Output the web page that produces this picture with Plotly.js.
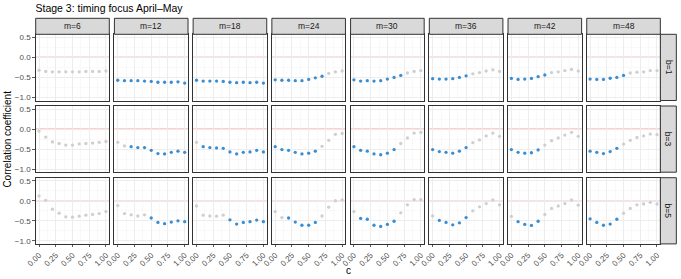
<!DOCTYPE html>
<html>
<head>
<meta charset="utf-8">
<script src="https://cdn.plot.ly/plotly-3.0.1.min.js"></script>
<style>html,body{margin:0;padding:0;background:#fff;}#chart{width:681px;height:279px;}</style>
</head>
<body>
<div id="chart"></div>
<script>
// ---- data ----
const cValues = [0, 0.1, 0.2, 0.3, 0.4, 0.5, 0.6, 0.7, 0.8, 0.9, 1.0];
const mLabels = ["m=6", "m=12", "m=18", "m=24", "m=30", "m=36", "m=42", "m=48"];
const bLabels = ["b=1", "b=3", "b=5"];
const xTickVals = [0, 0.25, 0.5, 0.75, 1.0];
const xTickText = ["0.00", "0.25", "0.50", "0.75", "1.00"];
const yTickVals = [0.5, 0.0, -0.5, -1.0];
const yTickText = ["0.5", "0.0", "\u22120.5", "\u22121.0"];

// correlation per panel, rows b=1,3,5 ; columns m=6..48
const corrB1 = [
  [-0.32,-0.35,-0.36,-0.36,-0.36,-0.36,-0.36,-0.35,-0.35,-0.35,-0.34],
  [-0.57,-0.58,-0.58,-0.58,-0.59,-0.60,-0.62,-0.62,-0.62,-0.61,-0.64],
  [-0.57,-0.59,-0.59,-0.59,-0.60,-0.62,-0.63,-0.62,-0.63,-0.62,-0.64],
  [-0.56,-0.57,-0.57,-0.58,-0.58,-0.55,-0.51,-0.47,-0.40,-0.36,-0.34],
  [-0.56,-0.59,-0.58,-0.59,-0.58,-0.54,-0.50,-0.45,-0.39,-0.35,-0.33],
  [-0.53,-0.54,-0.54,-0.53,-0.50,-0.46,-0.41,-0.38,-0.34,-0.31,-0.35],
  [-0.525,-0.55,-0.54,-0.525,-0.48,-0.44,-0.38,-0.36,-0.33,-0.30,-0.34],
  [-0.54,-0.55,-0.55,-0.52,-0.50,-0.45,-0.39,-0.37,-0.36,-0.33,-0.33]
];
const corrB3 = [
  [-0.05,-0.20,-0.32,-0.36,-0.40,-0.40,-0.37,-0.36,-0.35,-0.33,-0.31],
  [-0.33,-0.42,-0.44,-0.46,-0.46,-0.53,-0.61,-0.62,-0.58,-0.55,-0.58],
  [-0.33,-0.44,-0.46,-0.47,-0.48,-0.57,-0.62,-0.58,-0.57,-0.53,-0.57],
  [-0.44,-0.51,-0.53,-0.58,-0.62,-0.60,-0.55,-0.43,-0.28,-0.13,-0.11],
  [-0.44,-0.53,-0.55,-0.62,-0.64,-0.60,-0.51,-0.36,-0.22,-0.10,-0.08],
  [-0.51,-0.56,-0.58,-0.60,-0.55,-0.46,-0.34,-0.27,-0.17,-0.10,-0.18],
  [-0.51,-0.58,-0.60,-0.59,-0.52,-0.40,-0.29,-0.22,-0.15,-0.08,-0.18],
  [-0.55,-0.58,-0.61,-0.56,-0.48,-0.375,-0.28,-0.21,-0.17,-0.125,-0.14]
];
const corrB5 = [
  [0.12,0.01,-0.21,-0.31,-0.40,-0.41,-0.385,-0.36,-0.34,-0.32,-0.27],
  [-0.12,-0.32,-0.35,-0.38,-0.35,-0.43,-0.54,-0.57,-0.53,-0.50,-0.52],
  [-0.13,-0.36,-0.38,-0.385,-0.36,-0.475,-0.58,-0.54,-0.52,-0.48,-0.52],
  [-0.27,-0.42,-0.43,-0.53,-0.61,-0.61,-0.54,-0.38,-0.16,0.00,0.02],
  [-0.27,-0.44,-0.46,-0.61,-0.64,-0.59,-0.51,-0.30,-0.10,0.03,0.03],
  [-0.38,-0.49,-0.54,-0.60,-0.55,-0.42,-0.25,-0.15,-0.07,0.02,-0.10],
  [-0.39,-0.52,-0.59,-0.615,-0.51,-0.34,-0.19,-0.13,-0.07,0.02,-0.11],
  [-0.45,-0.54,-0.61,-0.58,-0.46,-0.31,-0.19,-0.10,-0.08,-0.04,-0.08]
];
// significance flags (1 = significant, drawn blue)
const sigB1 = [
  [0,0,0,0,0,0,0,0,0,0,0],
  [1,1,1,1,1,1,1,1,1,1,1],
  [1,1,1,1,1,1,1,1,1,1,1],
  [1,1,1,1,1,1,1,1,0,0,0],
  [1,1,1,1,1,1,1,1,0,0,0],
  [1,1,1,1,1,1,0,0,0,0,0],
  [1,1,1,1,1,1,0,0,0,0,0],
  [1,1,1,1,1,1,0,0,0,0,0]
];
const sigB3 = [
  [0,0,0,0,0,0,0,0,0,0,0],
  [0,0,1,1,1,1,1,1,1,1,1],
  [0,1,1,1,1,1,1,1,1,1,1],
  [1,1,1,1,1,1,1,0,0,0,0],
  [1,1,1,1,1,1,1,0,0,0,0],
  [1,1,1,1,1,1,0,0,0,0,0],
  [1,1,1,1,1,0,0,0,0,0,0],
  [1,1,1,1,1,0,0,0,0,0,0]
];
const sigB5 = [
  [0,0,0,0,0,0,0,0,0,0,0],
  [0,0,0,0,0,1,1,1,1,1,1],
  [0,0,0,0,0,1,1,1,1,1,1],
  [0,0,1,1,1,1,1,0,0,0,0],
  [0,1,1,1,1,1,1,0,0,0,0],
  [0,1,1,1,1,1,0,0,0,0,0],
  [0,1,1,1,1,0,0,0,0,0,0],
  [1,1,1,1,1,0,0,0,0,0,0]
];

const corrRows = [corrB1, corrB3, corrB5];
const sigRows = [sigB1, sigB3, sigB5];

// ---- layout geometry ----
const W = 681, H = 279;
const px = x => x / W;
const py = y => 1 - y / H;
const panelLeft0 = 35.7, panelPitchX = 78.72, panelW = 73.6;
const panelTop0 = 34.3, panelPitchY = 71.7, panelH = 66.2;
const stripH = 16;
const blue = "#3A8DD0", grey = "#CFCFCF";
const FONT = "Liberation Sans, Arial, sans-serif";

const data = [];
const layout = {
  width: W, height: H,
  margin: {l: 0, r: 0, t: 0, b: 0},
  paper_bgcolor: "#fff", plot_bgcolor: "#fff",
  showlegend: false,
  font: {family: FONT, size: 8, color: "#4D4D4D"},
  title: {text: "Stage 3: timing focus April\u2013May", x: px(35.5), xanchor: "left", y: py(8), yanchor: "middle",
          font: {family: FONT, size: 10.5, color: "#000"}},
  shapes: [], annotations: []
};

for (let j = 0; j < 3; j++) {
  for (let i = 0; i < 8; i++) {
    const k = j * 8 + i + 1;
    const xa = "xaxis" + (k === 1 ? "" : k), ya = "yaxis" + (k === 1 ? "" : k);
    const xr = "x" + (k === 1 ? "" : k), yr = "y" + (k === 1 ? "" : k);
    const L = panelLeft0 + panelPitchX * i, T = panelTop0 + panelPitchY * j;
    const vals = corrRows[j][i], sig = sigRows[j][i];
    data.push({
      type: "scatter", mode: "markers", x: cValues, y: vals, xaxis: xr, yaxis: yr,
      marker: {size: 3.3, color: sig.map(s => s ? blue : grey), line: {width: 0}},
      hoverinfo: "x+y", cliponaxis: false
    });
    layout[xa] = {
      domain: [px(L), px(L + panelW)], anchor: yr, range: [-0.05, 1.05],
      tickmode: "array", tickvals: xTickVals, ticktext: xTickText,
      showticklabels: j === 2, ticks: j === 2 ? "outside" : "", ticklen: 2.5, tickwidth: 0.8, tickcolor: "#333",
      tickangle: -45, tickfont: {family: FONT, size: 8, color: "#4D4D4D"},
      showgrid: true, gridcolor: "#EBEBEB", gridwidth: 0.9,
      minor: {tickmode: "array", tickvals: [0.125, 0.375, 0.625, 0.875], showgrid: true, gridcolor: "#F4F4F4", gridwidth: 0.5, ticks: ""},
      zeroline: false, showline: true, mirror: true, linecolor: "#333333", linewidth: 1, fixedrange: true
    };
    layout[ya] = {
      domain: [py(T + panelH), py(T)], anchor: xr, range: [-1.075, 0.575],
      tickmode: "array", tickvals: yTickVals, ticktext: yTickText,
      showticklabels: i === 0, ticks: i === 0 ? "outside" : "", ticklen: 2.5, tickwidth: 0.8, tickcolor: "#333",
      tickfont: {family: FONT, size: 8, color: "#4D4D4D"},
      showgrid: true, gridcolor: "#EBEBEB", gridwidth: 0.9,
      minor: {tickmode: "array", tickvals: [0.25, -0.25, -0.75], showgrid: true, gridcolor: "#F4F4F4", gridwidth: 0.5, ticks: ""},
      zeroline: false, showline: true, mirror: true, linecolor: "#333333", linewidth: 1, fixedrange: true
    };
    // reference line at zero
    layout.shapes.push({type: "line", xref: xr + " domain", yref: yr, x0: 0, x1: 1, y0: 0, y1: 0,
      line: {color: "rgba(255,0,0,0.25)", width: 1.5}, layer: "below"});
    // top strip
    if (j === 0) {
      layout.shapes.push({type: "rect", xref: "paper", yref: "paper",
        x0: px(L), x1: px(L + panelW), y0: py(panelTop0), y1: py(panelTop0 - stripH),
        fillcolor: "#D9D9D9", line: {color: "#333333", width: 1}});
      layout.annotations.push({xref: "paper", yref: "paper", x: px(L + panelW / 2), y: py(panelTop0 - stripH / 2),
        text: mLabels[i], showarrow: false, xanchor: "center", yanchor: "middle",
        font: {family: FONT, size: 8.5, color: "#1A1A1A"}});
    }
    // right strip
    if (i === 7) {
      const R = L + panelW;
      layout.shapes.push({type: "rect", xref: "paper", yref: "paper",
        x0: px(R), x1: px(R + stripH), y0: py(T + panelH), y1: py(T),
        fillcolor: "#D9D9D9", line: {color: "#333333", width: 1}});
      layout.annotations.push({xref: "paper", yref: "paper", x: px(R + stripH / 2), y: py(T + panelH / 2),
        text: bLabels[j], showarrow: false, textangle: 90, xanchor: "center", yanchor: "middle",
        font: {family: FONT, size: 8.5, color: "#1A1A1A"}});
    }
  }
}

// axis titles
layout.annotations.push({xref: "paper", yref: "paper", x: px(7.5), y: py((panelTop0 + panelTop0 + 2 * panelPitchY + panelH) / 2),
  text: "Correlation coefficient", showarrow: false, textangle: -90, xanchor: "center", yanchor: "middle",
  font: {family: FONT, size: 10, color: "#000"}});
layout.annotations.push({xref: "paper", yref: "paper", x: px(panelLeft0 + (7 * panelPitchX + panelW) / 2), y: py(270),
  text: "c", showarrow: false, xanchor: "center", yanchor: "middle",
  font: {family: FONT, size: 10, color: "#000"}});

Plotly.newPlot("chart", data, layout, {displayModeBar: false, staticPlot: true});
</script>
</body>
</html>
